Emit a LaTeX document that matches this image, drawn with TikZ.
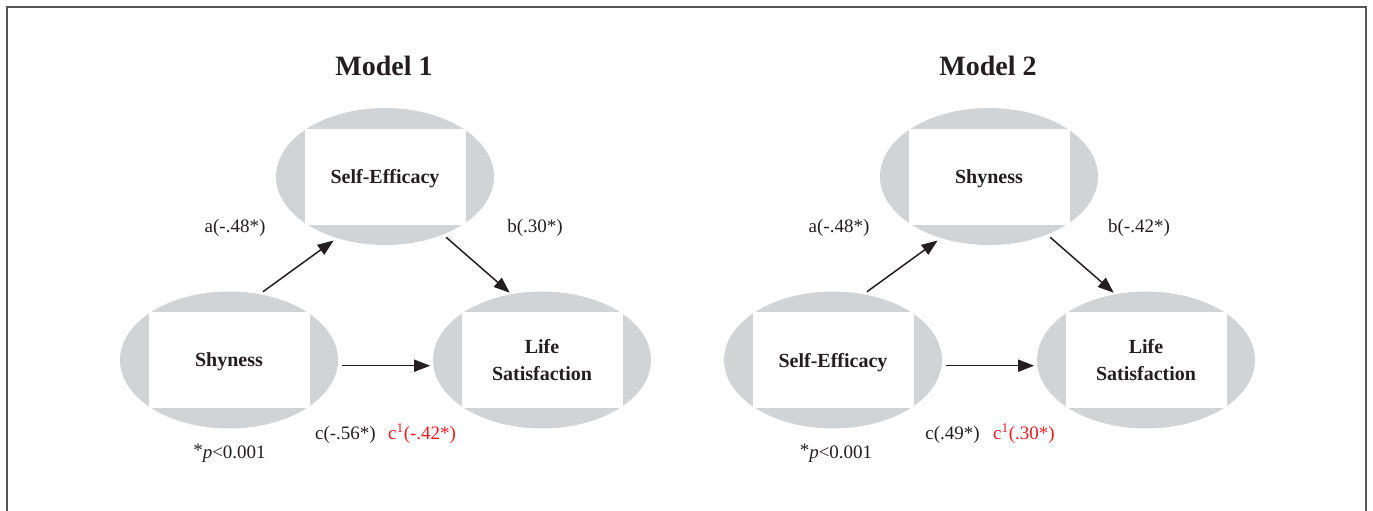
\documentclass[tikz,border=0pt]{standalone}
\usepackage{fontspec}
\setmainfont{Liberation Serif}
\usetikzlibrary{positioning,shapes.geometric,arrows.meta}
\definecolor{ovalgray}{HTML}{D1D3D4}
\definecolor{coefred}{HTML}{ED1C24}
\definecolor{framegray}{HTML}{555555}
\definecolor{inkblack}{HTML}{231F20}
\tikzset{
  oval/.style={ellipse,fill=ovalgray,minimum width=218pt,minimum height=137pt,inner sep=0pt},
  box/.style={fill=white,minimum width=161pt,minimum height=96pt,inner sep=0pt,align=center,
    text depth=0pt,font=\fontsize{20}{27}\selectfont\bfseries},
  arr/.style={draw,line width=1.5pt,-{Triangle[length=16pt,width=12pt]}},
  coef/.style={font=\fontsize{19}{23}\selectfont,inner sep=0pt,anchor=base},
  modeltitle/.style={font=\fontsize{28}{32}\selectfont\bfseries,inner sep=0pt,anchor=base}
}

\begin{document}
\begin{tikzpicture}[x=1pt,y=-1pt,color=inkblack]

  \useasboundingbox (0,0) rectangle (1373,511);
  \draw[framegray,line width=2pt] (7,511) -- (7,7) -- (1366,7) -- (1366,511);

  % Model 1
  \node(title1)[modeltitle] at (384,75) {Model 1};
  \node(se1)[oval] at (385,176.5) {};
  \node(se1t)[box] at (se1) {Self-Efficacy};
  \node(sh1)[oval] at (229,360) {};
  \node(sh1t)[box] at (sh1) {Shyness};
  \node(ls1)[oval] at (542,360) {};
  \node(ls1t)[box] at (ls1) {Life\\Satisfaction};

  \draw[arr,shorten <=4pt,shorten >=4pt] (sh1.65) -- (se1.232);
  \draw[arr,shorten <=4pt,shorten >=2pt] (se1.315) -- (ls1.115);
  \draw[arr,shorten <=4pt,shorten >=3pt] (sh1.-3) -- (ls1.183);

  \node(a1)[coef] at (235,232) {a(-.48*)};
  \node(b1)[coef] at (535,232) {b(.30*)};
  \node(c1)[coef,anchor=base east] at (376,439) {c(-.56*)};
  \node(cp1)[coef,anchor=base west,text=coefred] at (388,439) {c\textsuperscript{1}(-.42*)};
  \node(p1)[coef] at (229.5,458) {\raisebox{2pt}{*}\textit{p}<0.001};

  % Model 2
  \node(title2)[modeltitle] at (988,75) {Model 2};
  \node(sh2)[oval] at (989,176.5) {};
  \node(sh2t)[box] at (sh2) {Shyness};
  \node(se2)[oval] at (833,360) {};
  \node(se2t)[box] at (se2) {Self-Efficacy};
  \node(ls2)[oval] at (1146,360) {};
  \node(ls2t)[box] at (ls2) {Life\\Satisfaction};

  \draw[arr,shorten <=4pt,shorten >=4pt] (se2.65) -- (sh2.232);
  \draw[arr,shorten <=4pt,shorten >=2pt] (sh2.315) -- (ls2.115);
  \draw[arr,shorten <=4pt,shorten >=3pt] (se2.-3) -- (ls2.183);

  \node(a2)[coef] at (839,232) {a(-.48*)};
  \node(b2)[coef] at (1139,232) {b(-.42*)};
  \node(c2)[coef,anchor=base east] at (980,439) {c(.49*)};
  \node(cp2)[coef,anchor=base west,text=coefred] at (993,439) {c\textsuperscript{1}(.30*)};
  \node(p2)[coef] at (836,458) {\raisebox{2pt}{*}\textit{p}<0.001};

\end{tikzpicture}
\end{document}
